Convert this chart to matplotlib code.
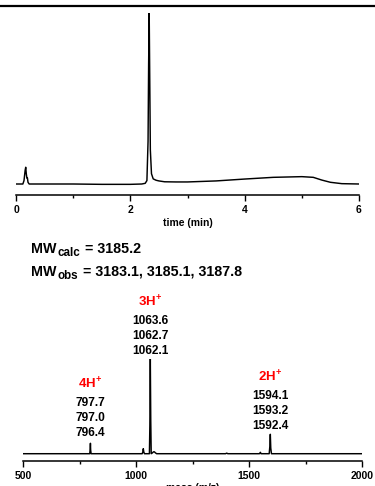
import numpy as np
import matplotlib
matplotlib.use("Agg")
import matplotlib.pyplot as plt
from matplotlib.lines import Line2D
from matplotlib.ticker import MultipleLocator

plt.rcParams["font.family"] = ["Liberation Sans", "DejaVu Sans"]
plt.rcParams["font.weight"] = "bold"
plt.rcParams["mathtext.fontset"] = "custom"
plt.rcParams["mathtext.rm"] = "Liberation Sans:bold"
plt.rcParams["mathtext.bf"] = "Liberation Sans:bold"
plt.rcParams["mathtext.it"] = "Liberation Sans:bold"

# HPLC trace (time in min, normalised absorbance)
hplc_time = [0.0, 0.12, 0.14, 0.16, 0.17, 0.18, 0.19, 0.20, 0.21, 0.23, 0.5, 1.0, 1.5,
             2.0, 2.2, 2.26, 2.29, 2.31, 2.32, 2.33, 2.34, 2.35, 2.37, 2.40, 2.45, 2.5,
             2.6, 2.8, 3.0, 3.5, 4.0, 4.5, 5.0, 5.2, 5.35, 5.5, 5.7, 6.0]
hplc_signal = [0.0, 0.0, 0.02, 0.08, 0.098, 0.06, 0.035, 0.035, 0.01, 0.0, 0.0, 0.0, -0.002,
               -0.002, 0.0, 0.004, 0.02, 0.25, 0.7, 1.0, 0.6, 0.2, 0.06, 0.03, 0.022, 0.018,
               0.013, 0.012, 0.012, 0.018, 0.029, 0.039, 0.043, 0.039, 0.023, 0.01, 0.002, 0.0]

# ESI mass spectrum (m/z, normalised intensity)
ms_mz = [500, 700, 794, 796, 797, 798, 800, 950, 1026, 1029, 1031, 1033, 1036, 1058, 1060,
         1062, 1064, 1066, 1072, 1076, 1080, 1084, 1090, 1395, 1400, 1405, 1545, 1549, 1552,
         1588, 1591, 1593, 1595, 1598, 1620, 2000]
ms_int = [0.0, 0.0, 0.0, 0.05, 0.11, 0.04, 0.0, 0.0, 0.0, 0.02, 0.053, 0.02, 0.0, 0.0, 0.3,
          1.0, 0.35, 0.0, 0.01, 0.02, 0.02, 0.01, 0.0, 0.0, 0.006, 0.0, 0.0, 0.015, 0.0,
          0.0, 0.08, 0.205, 0.06, 0.0, 0.0, 0.0]

mw_names = ["calc", "obs"]
mw_values = ["3185.2", "3183.1, 3185.1, 3187.8"]
ion_labels = ["4H", "3H", "2H"]
ion_values = [["797.7", "797.0", "796.4"],
              ["1063.6", "1062.7", "1062.1"],
              ["1594.1", "1593.2", "1592.4"]]
ion_center = [797, 1062, 1593]

W, H = 375, 486
fig = plt.figure(figsize=(W / 100, H / 100), dpi=100)
renderer = fig.canvas.get_renderer()


def px_axes(x0, y0, x1, y1):
    return fig.add_axes([x0 / W, 1 - y1 / H, (x1 - x0) / W, (y1 - y0) / H])


def style_axis(ax):
    for s in ["left", "right", "top"]:
        ax.spines[s].set_visible(False)
    ax.spines["bottom"].set_linewidth(1.1)
    ax.set_yticks([])
    ax.tick_params(axis="x", which="major", direction="out", length=4.5, width=1.0,
                   labelsize=7.5, pad=2.5)
    ax.tick_params(axis="x", which="minor", direction="out", length=2.3, width=1.0)
    ax.patch.set_alpha(0)


# top black rule
fig.add_artist(Line2D([0, 1], [1 - 6 / H, 1 - 6 / H], color="black", lw=1.6))

# HPLC panel
ax1 = px_axes(16, 13, 359, 195)
ax1.plot(hplc_time, hplc_signal, color="black", lw=1.05)
ax1.set_xlim(0, 6)
ax1.set_ylim(-0.0643, 1.0)
ax1.xaxis.set_major_locator(MultipleLocator(2))
ax1.xaxis.set_minor_locator(MultipleLocator(1))
style_axis(ax1)
ax1.set_xlabel("time (min)", fontsize=7.5, fontweight="bold", labelpad=2)

# MS panel
ax2 = px_axes(23.3, 359, 362.3, 461)
ax2.plot(ms_mz, ms_int, color="black", lw=1.05)
ax2.set_xlim(500, 2000)
ax2.set_ylim(-0.077, 1.0)
ax2.xaxis.set_major_locator(MultipleLocator(500))
ax2.xaxis.set_minor_locator(MultipleLocator(250))
style_axis(ax2)
ax2.set_xlabel("mass (m/z)", fontsize=7.5, fontweight="bold", labelpad=1.5)

# molecular weight text, subscript built by hand (mathtext shrinks it too much)
for name, val, yb in zip(mw_names, mw_values, [253, 276]):
    x = 31.0
    t = fig.text(x / W, 1 - yb / H, "MW", fontsize=10.3, fontweight="bold",
                 ha="left", va="baseline")
    x += t.get_window_extent(renderer).width + 0.5
    t = fig.text(x / W, 1 - (yb + 3) / H, name, fontsize=8.4, fontweight="bold",
                 ha="left", va="baseline")
    x += t.get_window_extent(renderer).width + 1
    fig.text(x / W, 1 - yb / H, " = " + val, fontsize=10.3, fontweight="bold",
             ha="left", va="baseline")

# ion annotations
label_base = [389, 307, 382]
for lab, vals, mz, yb in zip(ion_labels, ion_values, ion_center, label_base):
    xf = 23.3 + (mz - 500) * (339.0 / 1500)
    fig.text(xf / W, 1 - yb / H, lab + r"$^{+}$", color="red", fontsize=9.5,
             fontweight="bold", ha="center", va="baseline")
    for k, v in enumerate(vals):
        fig.text(xf / W, 1 - (yb + 16.5 + 15.2 * k) / H, v, fontsize=8.6,
                 fontweight="bold", ha="center", va="baseline")

fig.savefig("out.png", dpi=100)
